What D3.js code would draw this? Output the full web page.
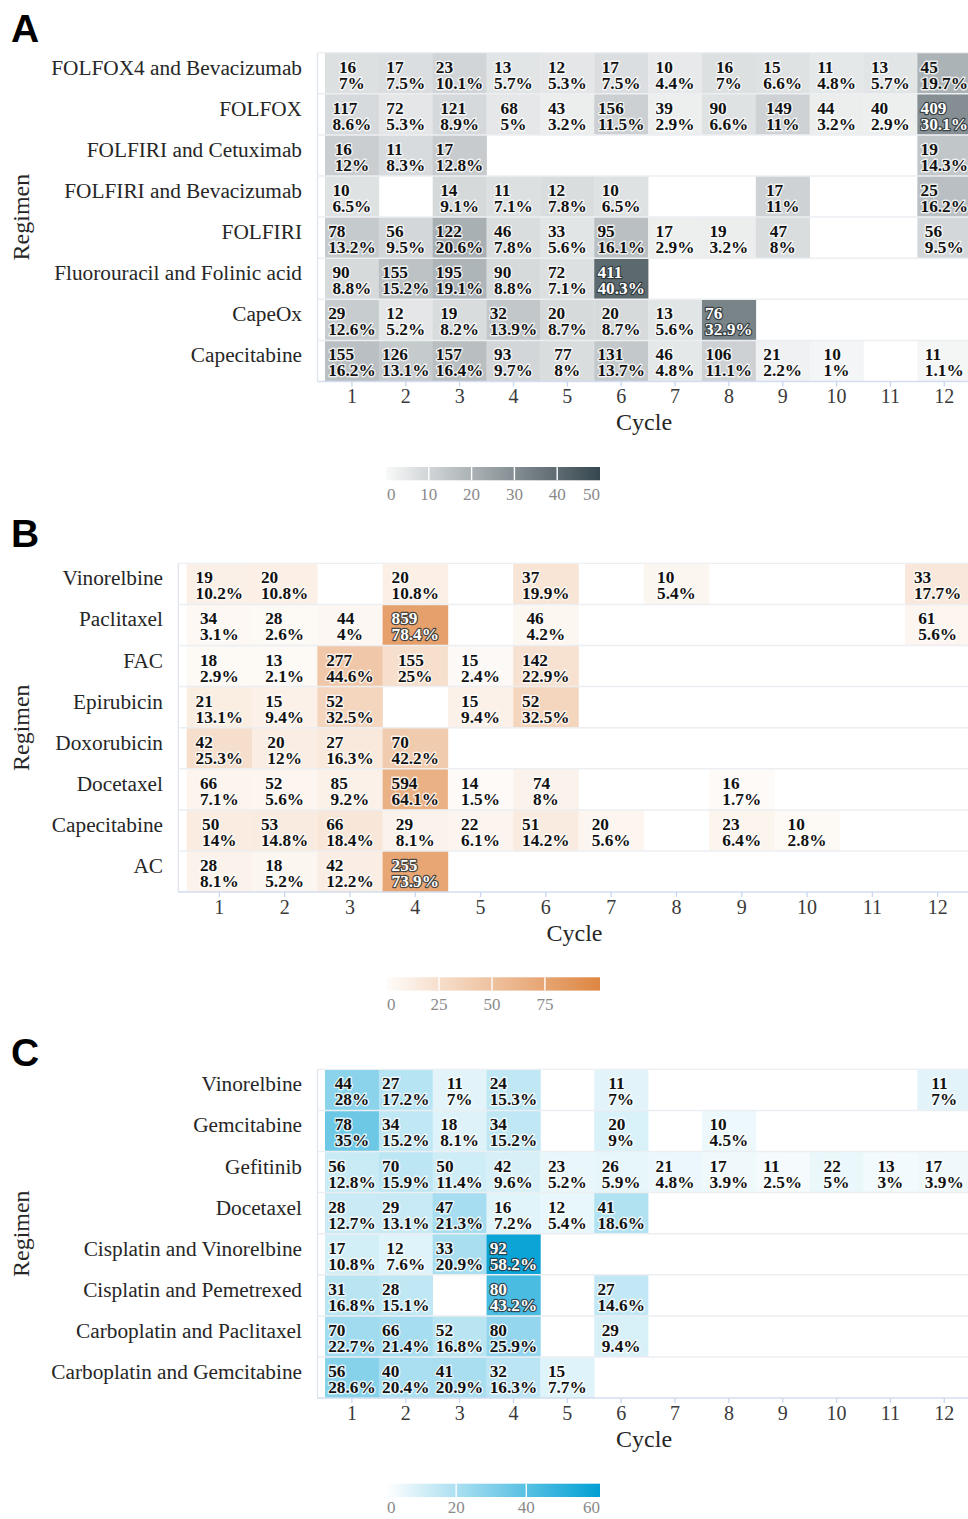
<!DOCTYPE html>
<html><head><meta charset="utf-8">
<script src="https://cdn.jsdelivr.net/npm/d3@7"></script>
<style>body{margin:0;background:#fff}svg{display:block}</style>
</head><body>
<svg id="c" width="968" height="1519"></svg>
<script>
// ---------------- DATA ----------------
const cycleLabels = ["1","2","3","4","5","6","7","8","9","10","11","12"];

const regimensA = ["FOLFOX4 and Bevacizumab","FOLFOX","FOLFIRI and Cetuximab","FOLFIRI and Bevacizumab","FOLFIRI","Fluorouracil and Folinic acid","CapeOx","Capecitabine"];
const countsA = [
  [16,17,23,13,12,17,10,16,15,11,13,45],
  [117,72,121,68,43,156,39,90,149,44,40,409],
  [16,11,17,null,null,null,null,null,null,null,null,19],
  [10,null,14,11,12,10,null,null,17,null,null,25],
  [78,56,122,46,33,95,17,19,47,null,null,56],
  [90,155,195,90,72,411,null,null,null,null,null,null],
  [29,12,19,32,20,20,13,76,null,null,null,null],
  [155,126,157,93,77,131,46,106,21,10,null,11]
];
const pctsA = [
  [7,7.5,10.1,5.7,5.3,7.5,4.4,7,6.6,4.8,5.7,19.7],
  [8.6,5.3,8.9,5,3.2,11.5,2.9,6.6,11,3.2,2.9,30.1],
  [12,8.3,12.8,null,null,null,null,null,null,null,null,14.3],
  [6.5,null,9.1,7.1,7.8,6.5,null,null,11,null,null,16.2],
  [13.2,9.5,20.6,7.8,5.6,16.1,2.9,3.2,8,null,null,9.5],
  [8.8,15.2,19.1,8.8,7.1,40.3,null,null,null,null,null,null],
  [12.6,5.2,8.2,13.9,8.7,8.7,5.6,32.9,null,null,null,null],
  [16.2,13.1,16.4,9.7,8,13.7,4.8,11.1,2.2,1,null,1.1]
];
const legendTicksA = [0,10,20,30,40,50];

const regimensB = ["Vinorelbine","Paclitaxel","FAC","Epirubicin","Doxorubicin","Docetaxel","Capecitabine","AC"];
const countsB = [
  [19,20,null,20,null,37,null,10,null,null,null,33],
  [34,28,44,859,null,46,null,null,null,null,null,61],
  [18,13,277,155,15,142,null,null,null,null,null,null],
  [21,15,52,null,15,52,null,null,null,null,null,null],
  [42,20,27,70,null,null,null,null,null,null,null,null],
  [66,52,85,594,14,74,null,null,16,null,null,null],
  [50,53,66,29,22,51,20,null,23,10,null,null],
  [28,18,42,255,null,null,null,null,null,null,null,null]
];
const pctsB = [
  [10.2,10.8,null,10.8,null,19.9,null,5.4,null,null,null,17.7],
  [3.1,2.6,4,78.4,null,4.2,null,null,null,null,null,5.6],
  [2.9,2.1,44.6,25,2.4,22.9,null,null,null,null,null,null],
  [13.1,9.4,32.5,null,9.4,32.5,null,null,null,null,null,null],
  [25.3,12,16.3,42.2,null,null,null,null,null,null,null,null],
  [7.1,5.6,9.2,64.1,1.5,8,null,null,1.7,null,null,null],
  [14,14.8,18.4,8.1,6.1,14.2,5.6,null,6.4,2.8,null,null],
  [8.1,5.2,12.2,73.9,null,null,null,null,null,null,null,null]
];
const legendTicksB = [0,25,50,75];

const regimensC = ["Vinorelbine","Gemcitabine","Gefitinib","Docetaxel","Cisplatin and Vinorelbine","Cisplatin and Pemetrexed","Carboplatin and Paclitaxel","Carboplatin and Gemcitabine"];
const countsC = [
  [44,27,11,24,null,11,null,null,null,null,null,11],
  [78,34,18,34,null,20,null,10,null,null,null,null],
  [56,70,50,42,23,26,21,17,11,22,13,17],
  [28,29,47,16,12,41,null,null,null,null,null,null],
  [17,12,33,92,null,null,null,null,null,null,null,null],
  [31,28,null,80,null,27,null,null,null,null,null,null],
  [70,66,52,80,null,29,null,null,null,null,null,null],
  [56,40,41,32,15,null,null,null,null,null,null,null]
];
const pctsC = [
  [28,17.2,7,15.3,null,7,null,null,null,null,null,7],
  [35,15.2,8.1,15.2,null,9,null,4.5,null,null,null,null],
  [12.8,15.9,11.4,9.6,5.2,5.9,4.8,3.9,2.5,5,3,3.9],
  [12.7,13.1,21.3,7.2,5.4,18.6,null,null,null,null,null,null],
  [10.8,7.6,20.9,58.2,null,null,null,null,null,null,null,null],
  [16.8,15.1,null,43.2,null,14.6,null,null,null,null,null,null],
  [22.7,21.4,16.8,25.9,null,9.4,null,null,null,null,null,null],
  [28.6,20.4,20.9,16.3,7.7,null,null,null,null,null,null,null]
];
const legendTicksC = [0,20,40,60];

// ---------------- LAYOUT / STYLE ----------------
const panels = [
  {letter:"A", letterY:42, regimens:regimensA, counts:countsA, pcts:pctsA, ticks:legendTicksA,
   cellX0:325, cellX1:971.2, frameX:317.5, top:52.7, labelRight:302, legendY:467, legendMax:50,
   lo:"#f8f9f9", hi:"#37474f", darkAt:30},
  {letter:"B", letterY:547, regimens:regimensB, counts:countsB, pcts:pctsB, ticks:legendTicksB,
   cellX0:186.7, cellX1:970.3, frameX:178.3, top:563.3, labelRight:163, legendY:977.3, legendMax:101,
   lo:"#fefcfa", hi:"#de8642", darkAt:70},
  {letter:"C", letterY:1066, regimens:regimensC, counts:countsC, pcts:pctsC, ticks:legendTicksC,
   cellX0:325, cellX1:971.2, frameX:317.5, top:1069.3, labelRight:302, legendY:1483.7, legendMax:61,
   lo:"#ffffff", hi:"#009fd4", darkAt:40}
];
const rowH = 41.1;
const serif = "'Liberation Serif','Times New Roman',serif";
const sans = "'Liberation Sans',Arial,sans-serif";

const svg = d3.select("#c");
const defs = svg.append("defs");

panels.forEach((p, pi) => {
  const g = svg.append("g");
  const bottom = p.top + rowH * p.regimens.length;
  const x = d3.scaleBand().domain(cycleLabels).range([p.cellX0, p.cellX1]).padding(0);
  const y = d3.scaleBand().domain(p.regimens).range([p.top, bottom]).padding(0);
  const color = d3.scaleLinear().domain([0, p.legendMax]).range([p.lo, p.hi]).interpolate(d3.interpolateRgb);

  // panel letter
  g.append("text").attr("x", 11).attr("y", p.letterY).text(p.letter)
    .attr("font-family", sans).attr("font-weight", "bold").attr("font-size", 39).attr("fill", "#000");

  // cells
  const cells = [];
  p.regimens.forEach((r, ri) => {
    cycleLabels.forEach((c, ci) => {
      const n = p.counts[ri][ci], v = p.pcts[ri][ci];
      if (n != null) cells.push({r, c, n, v});
    });
  });
  g.selectAll("rect.cell").data(cells).join("rect").attr("class", "cell")
    .attr("x", d => x(d.c)).attr("y", d => y(d.r))
    .attr("width", x.bandwidth() + 0.3).attr("height", y.bandwidth())
    .attr("fill", d => color(d.v));

  // frame: left, top, row separators
  const xr = 990;
  g.append("line").attr("x1", p.frameX).attr("x2", p.frameX).attr("y1", p.top).attr("y2", bottom)
    .attr("stroke", "#dfe4ee").attr("stroke-width", 1.3);
  const bounds = p.regimens.map(r => y(r)).concat([bottom]);
  g.selectAll("line.row").data(bounds).join("line").attr("class", "row")
    .attr("x1", p.frameX).attr("x2", xr).attr("y1", d => d).attr("y2", d => d)
    .attr("stroke", (d, i) => i === bounds.length - 1 ? "#d3ddef" : "#eceef2")
    .attr("stroke-width", (d, i) => i === 0 ? 1.3 : 1.5);

  // cell labels
  const lab = g.selectAll("text.cl").data(cells).join("text").attr("class", "cl")
    .attr("font-family", serif).attr("font-weight", "bold").attr("font-size", 17.3)
    .attr("fill", d => d.v >= p.darkAt ? "#ffffff" : "#111111")
    .attr("stroke", d => d.v >= p.darkAt ? "#2a3236" : "#ffffff")
    .attr("stroke-width", d => d.v >= p.darkAt ? 2.4 : 2.8)
    .attr("stroke-opacity", d => d.v >= p.darkAt ? 0.85 : 0.75)
    .attr("stroke-linejoin", "round")
    .style("paint-order", "stroke");
  lab.each(function(d) {
    const t = d3.select(this);
    const t1 = t.append("tspan").text(String(d.n));
    const t2 = t.append("tspan").text(String(d.v) + "%");
    const w = Math.max(t1.node().getComputedTextLength(), t2.node().getComputedTextLength());
    const x0 = x(d.c) + x.bandwidth() / 2 - w / 2;
    const y0 = y(d.r);
    t1.attr("x", x0).attr("y", y0 + 20);
    t2.attr("x", x0).attr("y", y0 + 36);
  });

  // y labels
  g.selectAll("text.yl").data(p.regimens).join("text").attr("class", "yl")
    .attr("x", p.labelRight).attr("y", d => y(d) + y.bandwidth() / 2 + 1.5)
    .attr("text-anchor", "end").attr("font-family", serif).attr("font-size", 21.3)
    .attr("fill", "#262626").text(d => d);

  // x ticks & labels
  g.selectAll("line.tk").data(cycleLabels).join("line").attr("class", "tk")
    .attr("x1", d => x(d) + x.bandwidth() / 2).attr("x2", d => x(d) + x.bandwidth() / 2)
    .attr("y1", bottom).attr("y2", bottom + 5).attr("stroke", "#c9d6ee").attr("stroke-width", 1.3);
  g.selectAll("text.xl").data(cycleLabels).join("text").attr("class", "xl")
    .attr("x", d => x(d) + x.bandwidth() / 2).attr("y", bottom + 21.5)
    .attr("text-anchor", "middle").attr("font-family", serif).attr("font-size", 20)
    .attr("fill", "#3a3a3a").text(d => d);

  // axis titles
  g.append("text").attr("x", (p.cellX0 + p.cellX1) / 2 - 4).attr("y", bottom + 48.5)
    .attr("text-anchor", "middle").attr("font-family", serif).attr("font-size", 24)
    .attr("fill", "#262626").text("Cycle");
  g.append("text").attr("transform", `translate(29,${(p.top + bottom) / 2}) rotate(-90)`)
    .attr("text-anchor", "middle").attr("font-family", serif).attr("font-size", 24)
    .attr("fill", "#262626").text("Regimen");

  // legend
  const lx = d3.scaleLinear().domain([0, p.legendMax]).range([386, 600]);
  const gid = "grad" + pi;
  const grad = defs.append("linearGradient").attr("id", gid).attr("x1", "0%").attr("x2", "100%");
  d3.range(0, 1.0001, 0.1).forEach(t => {
    grad.append("stop").attr("offset", (t * 100) + "%").attr("stop-color", color(t * p.legendMax));
  });
  g.append("rect").attr("x", 386).attr("y", p.legendY).attr("width", 214).attr("height", 13.3)
    .attr("fill", `url(#${gid})`);
  g.selectAll("line.sep").data(p.ticks.filter(v => v > 0 && lx(v) < 594)).join("line").attr("class", "sep")
    .attr("x1", d => lx(d)).attr("x2", d => lx(d)).attr("y1", p.legendY).attr("y2", p.legendY + 13.3)
    .attr("stroke", "#ffffff").attr("stroke-width", 1.4);
  g.selectAll("text.lg").data(p.ticks).join("text").attr("class", "lg")
    .attr("font-family", serif).attr("font-size", 17).attr("fill", "#8a8a8a")
    .attr("text-anchor", "middle").attr("y", Math.min(p.legendY + 33, 1513)).text(d => d)
    .each(function(d) {
      const w = this.getComputedTextLength();
      let cx = lx(d);
      if (cx - w / 2 < 386) cx = 386 + w / 2 + 1;
      if (cx + w / 2 > 600) cx = 600 - w / 2;
      d3.select(this).attr("x", cx);
    });
});
</script>
</body></html>
